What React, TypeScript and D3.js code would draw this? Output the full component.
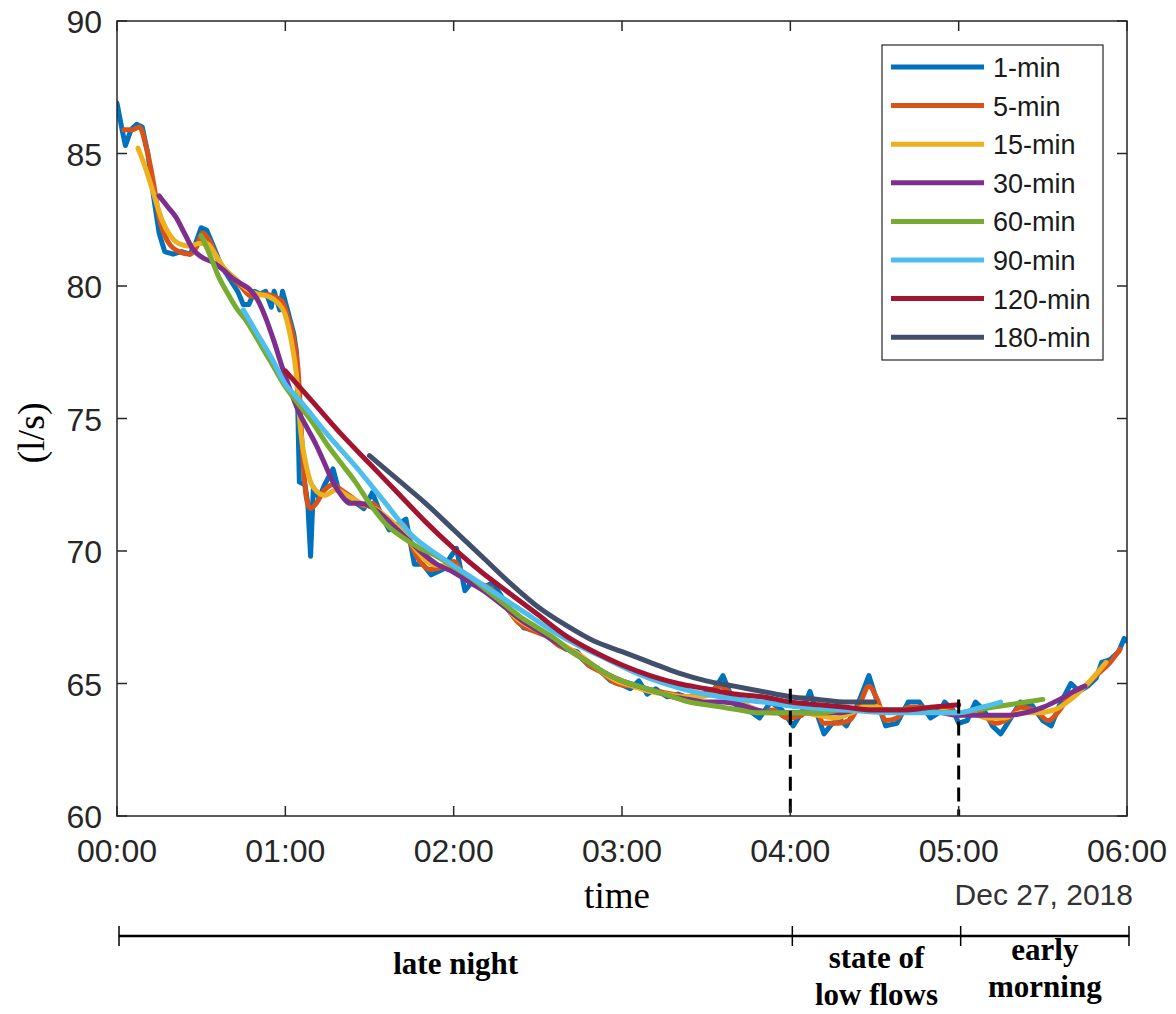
import React from "react";
import * as d3 from "d3";

// ---- data (time in minutes after 00:00, Dec 27 2018; flow in l/s) ----
const seriesNames = ["1-min", "5-min", "15-min", "30-min", "60-min", "90-min", "120-min", "180-min"];
const seriesColors = ["#0072BD", "#D95319", "#EDB120", "#7E2F8E", "#77AC30", "#4DBEEE", "#A2142F", "#404F6B"];

const min1: [number, number][] = [
  [0, 86.9], [2, 85.8], [3, 85.3], [5, 85.9], [7, 86.1], [9, 86.0], [11, 85.0], [13, 83.4], [15, 82.0], [17, 81.3],
  [20, 81.2], [23, 81.3], [26, 81.2], [28, 81.6], [30, 82.2], [32, 82.1], [34, 81.6], [37, 80.8], [40, 80.3], [43, 79.8],
  [45, 79.3], [47, 79.3], [49, 79.8], [51, 79.7], [53, 79.8], [55, 79.2], [56, 79.8], [58, 79.1], [59, 79.8], [61, 79.0],
  [63, 78.2], [64, 77.5], [65, 72.6], [67, 72.5], [68, 71.8], [69, 69.8], [70, 72.4], [72, 72.0], [74, 72.5], [77, 73.1],
  [79, 72.3], [81, 72.0], [84, 71.9], [88, 71.6], [91, 72.2], [94, 71.4], [97, 70.8], [100, 71.0], [103, 71.2], [106, 69.5],
  [109, 69.5], [112, 69.1], [116, 69.3], [119, 69.8], [121, 70.1], [124, 68.5], [127, 68.9], [130, 68.6], [134, 68.8], [137, 68.3],
  [141, 67.6], [145, 67.1], [149, 67.0], [153, 66.8], [157, 66.5], [160, 66.3], [164, 66.2], [168, 65.7], [172, 65.5], [176, 65.1],
  [179, 65.0], [183, 64.8], [186, 65.1], [189, 64.6], [192, 64.8], [196, 64.5], [200, 64.6], [205, 64.4], [209, 64.6], [213, 64.8],
  [216, 65.3], [219, 64.5], [221, 64.1], [225, 64.0], [229, 63.7], [233, 64.3], [237, 64.0], [241, 63.4], [244, 63.9], [247, 64.7],
  [250, 63.7], [252, 63.1], [255, 63.5], [258, 63.6], [260, 63.4], [264, 64.2], [268, 65.3], [271, 64.3], [274, 63.4], [278, 63.5],
  [282, 64.3], [286, 64.3], [290, 63.7], [293, 63.9], [295, 64.3], [298, 64.0], [300, 63.5], [303, 63.6], [306, 64.3], [309, 64.0],
  [312, 63.4], [315, 63.1], [318, 63.6], [322, 64.3], [326, 64.2], [330, 63.6], [333, 63.4], [336, 64.2], [340, 65.0], [343, 64.7],
  [346, 64.9], [349, 65.2], [351, 65.8], [354, 65.9], [357, 66.2], [359, 66.7], [360, 66.6],
];

const min5: [number, number][] = [
  [2.5, 85.9], [5.5, 85.9], [8, 86.0], [10.5, 85.2], [13, 83.9], [15, 82.6], [18, 81.7], [22, 81.3], [26, 81.2], [28.5, 81.5],
  [30.5, 82.0], [33, 81.7], [36, 81.0], [40, 80.4], [44, 80.0], [48, 79.6], [52, 79.7], [56, 79.6], [59, 79.4], [61, 78.8],
  [63, 78.0], [64.5, 76.9], [66, 74.0], [67.5, 72.0], [69, 71.6], [71, 71.8], [74, 72.3], [77, 72.5], [80, 72.3], [84, 72.0],
  [88, 71.7], [91, 71.8], [95, 71.3], [98, 71.0], [102, 71.0], [105, 70.2], [108, 69.6], [112, 69.3], [116, 69.4], [120, 69.6],
  [124, 69.0], [128, 68.8], [133, 68.6], [138, 68.0], [143, 67.3], [148, 67.0], [153, 66.8], [158, 66.4], [163, 66.2], [168, 65.7],
  [173, 65.4], [178, 65.0], [183, 64.9], [188, 64.8], [193, 64.7], [198, 64.6], [204, 64.5], [210, 64.6], [215, 64.9], [219, 64.6],
  [224, 64.1], [229, 63.9], [234, 64.0], [239, 63.7], [244, 63.8], [248, 64.2], [252, 63.5], [257, 63.5], [261, 63.6], [265, 64.3],
  [268, 64.9], [271, 64.4], [274, 63.6], [278, 63.7], [282, 64.1], [287, 64.1], [291, 63.9], [296, 64.1], [300, 63.8], [305, 64.0],
  [309, 63.8], [313, 63.5], [318, 63.7], [322, 64.1], [327, 64.0], [332, 63.6], [336, 64.0], [340, 64.6], [345, 64.9], [350, 65.4],
  [354, 65.8], [357.5, 66.3],
];

const min15: [number, number][] = [
  [7.5, 85.2], [10, 84.5], [13, 83.5], [16, 82.5], [19, 81.9], [22, 81.6], [26, 81.5], [29, 81.6], [32, 81.6], [35, 81.2],
  [38, 80.7], [42, 80.3], [46, 79.9], [50, 79.7], [54, 79.6], [57, 79.4], [60, 78.9], [62, 78.0], [64, 76.6], [65.5, 74.5],
  [67.5, 73.2], [70, 72.4], [74, 72.1], [78, 72.3], [82, 72.1], [87, 71.8], [92, 71.6], [97, 71.2], [102, 70.7], [107, 70.0],
  [112, 69.5], [118, 69.4], [124, 69.0], [130, 68.6], [136, 68.2], [142, 67.5], [148, 67.1], [154, 66.8], [160, 66.4], [166, 66.0],
  [172, 65.5], [178, 65.1], [184, 64.9], [190, 64.7], [196, 64.6], [202, 64.5], [208, 64.5], [214, 64.6], [220, 64.5], [226, 64.1],
  [232, 63.9], [238, 63.9], [244, 63.9], [250, 63.8], [256, 63.7], [262, 63.9], [268, 64.2], [274, 64.0], [280, 63.9], [286, 64.0],
  [292, 64.0], [298, 63.9], [304, 63.9], [310, 63.7], [316, 63.7], [322, 63.9], [328, 63.9], [334, 64.0], [340, 64.4], [346, 65.0],
  [352.5, 65.8],
];

const min30: [number, number][] = [
  [15, 83.4], [18, 83.0], [21, 82.6], [24, 82.0], [27, 81.4], [30, 81.1], [34, 80.9], [38, 80.6], [41, 80.3], [44, 80.1],
  [47, 79.9], [50, 79.5], [53, 78.8], [56, 77.9], [59, 76.9], [62, 76.0], [65, 75.2], [68, 74.6], [71, 74.0], [74, 73.3],
  [77, 72.6], [80, 72.1], [83, 71.8], [86, 71.8], [90, 71.7], [94, 71.4], [98, 71.0], [103, 70.5], [108, 70.0], [114, 69.5],
  [120, 69.2], [126, 68.8], [132, 68.4], [138, 67.9], [144, 67.4], [150, 67.0], [156, 66.6], [162, 66.2], [168, 65.8], [174, 65.4],
  [180, 65.1], [186, 64.9], [192, 64.7], [198, 64.5], [204, 64.4], [210, 64.3], [216, 64.3], [222, 64.2], [228, 64.0], [234, 63.9],
  [240, 63.9], [246, 63.9], [252, 63.9], [258, 63.9], [264, 64.0], [270, 64.0], [276, 64.0], [282, 64.0], [288, 64.0], [294, 63.9],
  [300, 63.8], [306, 63.8], [312, 63.8], [318, 63.8], [324, 63.9], [330, 64.1], [336, 64.4], [341, 64.7], [345, 64.9],
];

const min60: [number, number][] = [
  [30, 81.9], [33, 81.2], [36, 80.4], [39, 79.8], [43, 79.1], [46, 78.7], [50, 78.0], [55, 77.1], [60, 76.2], [65, 75.5],
  [70, 74.8], [75, 74.0], [80, 73.3], [85, 72.6], [90, 71.8], [96, 71.0], [102, 70.5], [108, 70.1], [114, 69.8], [120, 69.4],
  [126, 69.0], [132, 68.5], [138, 68.0], [144, 67.5], [150, 67.1], [156, 66.7], [162, 66.2], [168, 65.8], [174, 65.4], [180, 65.1],
  [186, 64.9], [192, 64.7], [198, 64.5], [204, 64.3], [210, 64.2], [216, 64.1], [222, 64.0], [228, 63.9], [234, 63.9], [240, 63.9],
  [246, 63.9], [252, 63.9], [258, 64.0], [264, 64.0], [270, 64.0], [276, 64.0], [282, 64.0], [288, 64.0], [294, 63.9], [300, 63.9],
  [306, 64.0], [312, 64.1], [318, 64.2], [324, 64.3], [330, 64.4],
];

const min90: [number, number][] = [
  [45, 79.1], [50, 78.2], [55, 77.3], [60, 76.3], [65, 75.7], [75, 74.4], [85, 73.2], [95, 71.9], [105, 70.6], [115, 69.8],
  [125, 69.1], [135, 68.4], [145, 67.7], [155, 67.0], [165, 66.4], [175, 65.9], [185, 65.4], [195, 65.0], [205, 64.7], [215, 64.5],
  [230, 64.3], [245, 64.1], [260, 64.0], [275, 63.9], [290, 63.9], [300, 63.9], [308, 64.1], [315, 64.3],
];

const min120: [number, number][] = [
  [60, 76.8], [70, 75.6], [80, 74.4], [90, 73.3], [100, 72.2], [110, 71.1], [120, 70.1], [130, 69.2], [140, 68.4], [150, 67.6],
  [160, 66.8], [170, 66.2], [180, 65.7], [190, 65.3], [200, 65.0], [210, 64.8], [220, 64.6], [230, 64.5], [240, 64.3], [250, 64.2],
  [260, 64.1], [270, 64.0], [280, 64.0], [290, 64.1], [300, 64.2],
];

const min180: [number, number][] = [
  [90, 73.6], [100, 72.7], [110, 71.8], [120, 70.8], [130, 69.8], [140, 68.8], [150, 67.9], [160, 67.2], [170, 66.6], [180, 66.2],
  [190, 65.8], [200, 65.4], [210, 65.1], [220, 64.9], [230, 64.7], [240, 64.5], [250, 64.4], [260, 64.3], [270, 64.3],
];

const allSeries = [min1, min5, min15, min30, min60, min90, min120, min180];

const yTicks = [60, 65, 70, 75, 80, 85, 90];
const markerTimes = [240, 300]; // dashed lines at 04:00 and 05:00
const markerTops = [64.8, 64.4];
const periodBounds = [0, 240, 300, 360];
const periodLabels = [["late night"], ["state of", "low flows"], ["early", "morning"]];

const day = new Date(2018, 11, 27, 0, 0);
const atMin = (m: number) => new Date(day.getTime() + m * 60000);

const W = 1176, H = 1014;
const L = 117, R = 1127, T = 21, B = 816;
const AX = "#262626";
const SANS = "'Liberation Sans', Arial, Helvetica, sans-serif";
const SERIF = "'Liberation Serif', 'Times New Roman', Times, serif";

export default function App() {
  const x = d3.scaleTime().domain([atMin(0), atMin(360)]).range([L, R]);
  const y = d3.scaleLinear().domain([60, 90]).range([B, T]);
  const xTicks = x.ticks(d3.timeHour.every(1)!);
  const fmt = d3.timeFormat("%H:%M");

  const line = d3.line<[number, number]>().x(d => x(atMin(d[0]))).y(d => y(d[1]));
  const smooth = d3.line<[number, number]>().x(d => x(atMin(d[0]))).y(d => y(d[1])).curve(d3.curveMonotoneX);

  const bracketY = 936;
  const legX = 882, legY = 45, legW = 221, legH = 315, legRow0 = 67, legStep = 38.6;

  return (
    <svg width={W} height={H} style={{ position: "absolute", left: 0, top: 0, background: "#fff" }}>
      <rect x={0} y={0} width={W} height={H} fill="#fff" />
      <defs>
        <clipPath id="plot"><rect x={L} y={T} width={R - L} height={B - T} /></clipPath>
      </defs>

      {/* data lines */}
      <g clipPath="url(#plot)" fill="none" strokeLinejoin="round" strokeLinecap="round">
        {allSeries.map((s, i) => (
          <path key={i} d={(i === 0 ? line(s) : smooth(s)) || ""} stroke={seriesColors[i]} strokeWidth={5} />
        ))}
      </g>

      {/* dashed markers */}
      {markerTimes.map((m, i) => (
        <line key={i} x1={x(atMin(m))} x2={x(atMin(m))} y1={y(markerTops[i])} y2={B}
          stroke="#000" strokeWidth={3} strokeDasharray="14,8" />
      ))}

      {/* axes box */}
      <rect x={L} y={T} width={R - L} height={B - T} fill="none" stroke={AX} strokeWidth={1.5} />
      {xTicks.map((t, i) => (
        <g key={i}>
          <line x1={x(t)} x2={x(t)} y1={B} y2={B - 10} stroke={AX} strokeWidth={1.5} />
          <line x1={x(t)} x2={x(t)} y1={T} y2={T + 10} stroke={AX} strokeWidth={1.5} />
          <text x={x(t)} y={862} textAnchor="middle" fontFamily={SANS} fontSize={32} fill={AX}>{fmt(t)}</text>
        </g>
      ))}
      {yTicks.map((v, i) => (
        <g key={i}>
          <line x1={L} x2={L + 10} y1={y(v)} y2={y(v)} stroke={AX} strokeWidth={1.5} />
          <line x1={R} x2={R - 10} y1={y(v)} y2={y(v)} stroke={AX} strokeWidth={1.5} />
          <text x={102} y={y(v) + 12} textAnchor="end" fontFamily={SANS} fontSize={32} fill={AX}>{v}</text>
        </g>
      ))}

      {/* axis titles */}
      <text x={617} y={908} textAnchor="middle" fontFamily={SERIF} fontSize={37} fill="#000">time</text>
      <text x={1133} y={905} textAnchor="end" fontFamily={SANS} fontSize={30} fill="#333">Dec 27, 2018</text>
      <text transform={`translate(44, 433) rotate(-90)`} textAnchor="middle" fontFamily={SERIF} fontSize={38} fill="#000">(l/s)</text>

      {/* legend */}
      <rect x={legX} y={legY} width={legW} height={legH} fill="#fff" stroke={AX} strokeWidth={1.2} />
      {seriesNames.map((n, i) => {
        const ly = legRow0 + i * legStep;
        return (
          <g key={n}>
            <line x1={891} x2={984} y1={ly} y2={ly} stroke={seriesColors[i]} strokeWidth={5} />
            <text x={993} y={ly + 10} fontFamily={SANS} fontSize={27} fill="#1a1a1a">{n}</text>
          </g>
        );
      })}

      {/* period bracket */}
      <line x1={x(atMin(0)) + 2} x2={x(atMin(360)) + 2} y1={bracketY} y2={bracketY} stroke="#000" strokeWidth={2.5} />
      {periodBounds.map((m, i) => (
        <line key={i} x1={x(atMin(m)) + 2} x2={x(atMin(m)) + 2} y1={bracketY - 10} y2={bracketY + 10} stroke="#000" strokeWidth={1.5} />
      ))}
      {periodLabels.map((lines, i) => {
        const cx = (x(atMin(periodBounds[i])) + x(atMin(periodBounds[i + 1]))) / 2 + 2;
        const baseY = lines.length === 1 ? 974 : (i === 1 ? 968 : 960);
        return (
          <text key={i} textAnchor="middle" fontFamily={SERIF} fontWeight="bold" fontSize={31} fill="#000">
            {lines.map((t, j) => (
              <tspan key={j} x={cx} y={baseY + j * 37}>{t}</tspan>
            ))}
          </text>
        );
      })}
    </svg>
  );
}
